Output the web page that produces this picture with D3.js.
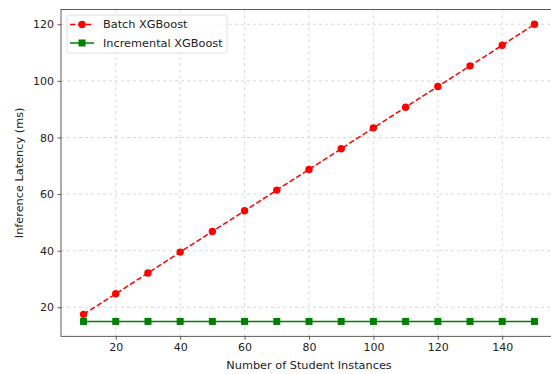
<!DOCTYPE html>
<html><head><meta charset="utf-8">
<script src="https://cdn.jsdelivr.net/npm/d3@7"></script>
<style>body{margin:0;background:#fff}svg{display:block;font-family:"DejaVu Sans",sans-serif}</style>
</head><body><svg id="c" width="551" height="374"></svg>
<script>
const instances = [10,20,30,40,50,60,70,80,90,100,110,120,130,140,150];
const batchLatency = [17.5,24.8,32.1,39.5,46.8,54.1,61.4,68.7,76.0,83.4,90.7,98.0,105.3,112.6,120.0];
const incrementalLatency = [15,15,15,15,15,15,15,15,15,15,15,15,15,15,15];
const xTicks = [20,40,60,80,100,120,140];
const yTicks = [20,40,60,80,100,120];
const seriesNames = ["Batch XGBoost","Incremental XGBoost"];

const svg = d3.select("#c");
const L=61, R=557, T=9.4, B=336.3;
const x = d3.scaleLinear().domain([3,157]).range([L,R]);
const y = d3.scaleLinear().domain([9.75,125.25]).range([B,T]);

svg.append("defs").append("clipPath").attr("id","clip").append("rect")
  .attr("x",L).attr("y",T).attr("width",R-L).attr("height",B-T);

// grid
const g = svg.append("g");
g.selectAll(".gx").data(xTicks).join("line")
  .attr("x1",d=>x(d)).attr("x2",d=>x(d)).attr("y1",T).attr("y2",B)
  .attr("stroke","#cfcfcf").attr("stroke-width",0.8).attr("stroke-dasharray","3,3");
g.selectAll(".gy").data(yTicks).join("line")
  .attr("y1",d=>y(d)).attr("y2",d=>y(d)).attr("x1",L).attr("x2",R)
  .attr("stroke","#cfcfcf").attr("stroke-width",0.8).attr("stroke-dasharray","3,3");

// axes
const xa = svg.append("g").attr("transform",`translate(0,${B})`)
  .call(d3.axisBottom(x).tickValues(xTicks).tickSize(3.5).tickPadding(3.5).tickFormat(d3.format("d")));
const ya = svg.append("g").attr("transform",`translate(${L},0)`)
  .call(d3.axisLeft(y).tickValues(yTicks).tickSize(3.5).tickPadding(3.5).tickFormat(d3.format("d")));
[xa,ya].forEach(a=>{
  a.select(".domain").remove();
  a.selectAll("text").attr("font-size",11).attr("fill","#222").attr("font-family","DejaVu Sans");
  a.selectAll("line").attr("stroke","#333").attr("stroke-width",0.8);
});
svg.append("rect").attr("x",L).attr("y",T).attr("width",R-L).attr("height",B-T)
  .attr("fill","none").attr("stroke","#333").attr("stroke-width",0.8);

// lines
const plot = svg.append("g").attr("clip-path","url(#clip)");
const lineB = d3.line().x((d,i)=>x(instances[i])).y(d=>y(d));
plot.append("path").datum(batchLatency).attr("d",lineB)
  .attr("fill","none").attr("stroke","#ff0000").attr("stroke-width",1.5).attr("stroke-dasharray","5.5,2.4");
plot.append("path").datum(incrementalLatency).attr("d",lineB)
  .attr("fill","none").attr("stroke","#008000").attr("stroke-width",1.5);
plot.selectAll(".mb").data(batchLatency).join("circle")
  .attr("cx",(d,i)=>x(instances[i])).attr("cy",d=>y(d)).attr("r",3.7).attr("fill","#ff0000");
plot.selectAll(".mi").data(incrementalLatency).join("rect")
  .attr("x",(d,i)=>x(instances[i])-3.5).attr("y",d=>y(d)-3.5).attr("width",7).attr("height",7).attr("fill","#008000");

// labels
svg.append("text").attr("x",(L+R)/2).attr("y",369).attr("text-anchor","middle")
  .attr("font-size",11.3).attr("fill","#222").text("Number of Student Instances");
svg.append("text").attr("transform",`translate(23,${(T+B)/2}) rotate(-90)`).attr("text-anchor","middle")
  .attr("font-size",11.3).attr("fill","#222").text("Inference Latency (ms)");

// legend
const lg = svg.append("g");
lg.append("rect").attr("x",67).attr("y",15).attr("width",160).attr("height",38).attr("rx",2.5)
  .attr("fill","#fff").attr("fill-opacity",0.8).attr("stroke","#d6d6d6").attr("stroke-width",0.8);
const ly=[24.5,43];
lg.append("line").attr("x1",70).attr("x2",94).attr("y1",ly[0]).attr("y2",ly[0])
  .attr("stroke","#ff0000").attr("stroke-width",1.5).attr("stroke-dasharray","5.5,2.4");
lg.append("circle").attr("cx",82).attr("cy",ly[0]).attr("r",3.7).attr("fill","#ff0000");
lg.append("line").attr("x1",70).attr("x2",94).attr("y1",ly[1]).attr("y2",ly[1])
  .attr("stroke","#008000").attr("stroke-width",1.5);
lg.append("rect").attr("x",82-3.5).attr("y",ly[1]-3.5).attr("width",7).attr("height",7).attr("fill","#008000");
seriesNames.forEach((n,i)=>{
  lg.append("text").attr("x",103).attr("y",ly[i]).attr("dy","0.35em")
    .attr("font-size",11.3).attr("fill","#222").text(n);
});
</script></body></html>
